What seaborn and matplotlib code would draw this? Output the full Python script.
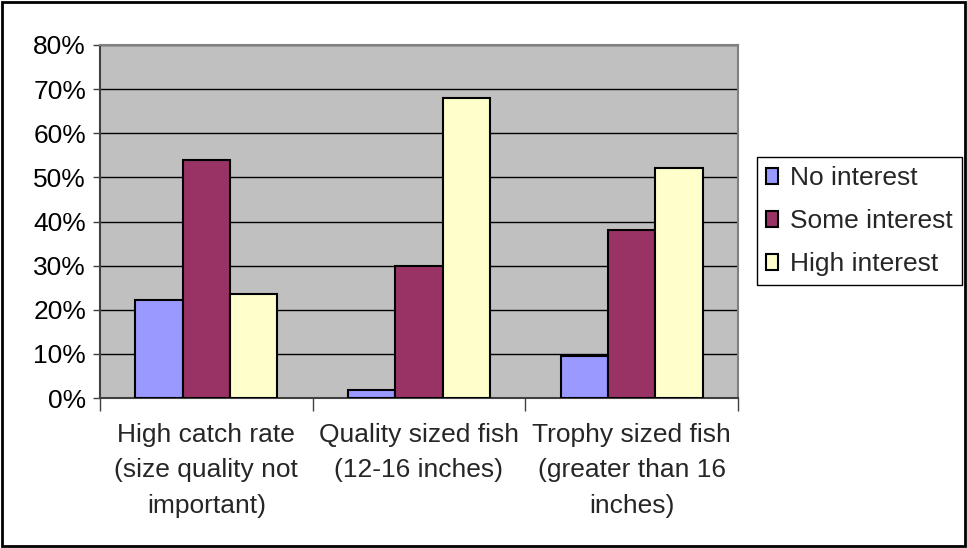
import matplotlib
matplotlib.use("Agg")
import matplotlib.pyplot as plt
import seaborn as sns
import pandas as pd
from matplotlib.ticker import PercentFormatter, FixedLocator
from matplotlib.patches import Rectangle

categories = [
    "High catch rate\n(size quality not\nimportant)",
    "Quality sized fish\n(12-16 inches)",
    "Trophy sized fish\n(greater than 16\ninches)",
]
series_names = ["No interest", "Some interest", "High interest"]
no_interest = [0.222, 0.017, 0.095]
some_interest = [0.540, 0.300, 0.380]
high_interest = [0.235, 0.680, 0.521]
colors = ["#9999FF", "#993366", "#FFFFCC"]

rows = []
for name, vals in zip(series_names, [no_interest, some_interest, high_interest]):
    for cat, v in zip(categories, vals):
        rows.append({"category": cat, "series": name, "value": v})
df = pd.DataFrame(rows)

sns.set_theme(style="white")
plt.rcParams["font.family"] = ["Liberation Sans", "DejaVu Sans"]

fig = plt.figure(figsize=(9.67, 5.48), dpi=100)
ax = fig.add_axes([100 / 967, 1 - 398 / 548, 638 / 967, 353 / 548])
ax.set_facecolor("#C0C0C0")

sns.barplot(
    data=df, x="category", y="value", hue="series",
    order=categories, hue_order=series_names,
    palette=colors, width=0.667, gap=0, saturation=1,
    edgecolor="black", linewidth=1.5, ax=ax, zorder=3,
)

ax.set_ylim(0, 0.8)
ax.set_xlim(-0.5, 2.5)
ax.yaxis.set_major_locator(FixedLocator([i / 10 for i in range(9)]))
ax.yaxis.set_major_formatter(PercentFormatter(1.0, decimals=0))
ax.grid(axis="y", color="black", linewidth=1, zorder=1)
ax.set_axisbelow(True)

ax.set_xlabel("")
ax.set_ylabel("")
ax.tick_params(axis="y", labelsize=19, length=5, width=1, color="#404040",
               left=True, pad=5, colors="black")
ax.tick_params(axis="x", which="major", labelsize=19, length=0, pad=18)
ax.xaxis.set_minor_locator(FixedLocator([-0.5, 0.5, 1.5, 2.5]))
ax.tick_params(axis="x", which="minor", bottom=True, length=9, width=1, color="#404040")
for lbl in ax.get_xticklabels():
    lbl.set_linespacing(1.6)
    lbl.set_multialignment("center")

for side in ["top", "right"]:
    ax.spines[side].set_color("#808080")
    ax.spines[side].set_linewidth(1.5)
for side in ["left", "bottom"]:
    ax.spines[side].set_color("#404040")
    ax.spines[side].set_linewidth(1.5)

leg = ax.legend(
    loc="upper left", bbox_to_anchor=(757 / 967, 1 - 157 / 548),
    bbox_transform=fig.transFigure, borderaxespad=0, fontsize=19,
    frameon=True, fancybox=False, edgecolor="black", framealpha=1,
    handlelength=0.45, handleheight=0.6, handletextpad=0.45,
    labelspacing=0.72, borderpad=0.35,
)
leg.get_frame().set_linewidth(1)

fig.add_artist(Rectangle((2 / 967, 2 / 548), 963 / 967, 544 / 548,
                         transform=fig.transFigure, fill=False,
                         edgecolor="black", linewidth=2))

fig.savefig("out.png", dpi=100, facecolor="white")
